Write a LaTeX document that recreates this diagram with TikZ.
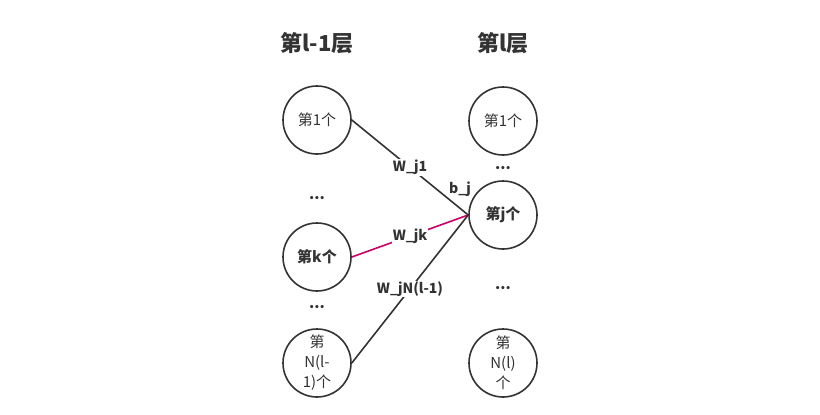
\documentclass[tikz,border=0pt]{standalone}
\usepackage{fontspec}
\setmainfont{Noto Sans CJK SC}
\definecolor{ink}{HTML}{333333}
\definecolor{mag}{HTML}{CC0066}
\begin{document}
\begin{tikzpicture}[x=1pt,y=-1pt,
  neuron/.style={circle,draw=ink,line width=1.6pt,minimum size=68pt,inner sep=0pt,text=ink,font=\fontsize{15}{20}\selectfont,align=center},
  boldneuron/.style={neuron,font=\fontsize{15}{20}\selectfont\bfseries},
  title/.style={font=\fontsize{22}{24}\selectfont\bfseries,text=ink},
  dots/.style={font=\fontsize{15}{15}\selectfont\bfseries,text=ink},
  wlab/.style={fill=white,inner sep=1pt,font=\fontsize{14}{15}\selectfont\bfseries,text=ink},
  conn/.style={line width=1.6pt,draw=ink}]
\useasboundingbox (0,0) rectangle (820,415);
\node[title] (t1) at (317,43) {第l-1层};
\node[title] (t2) at (503,43) {第l层};
\node[neuron] (a1) at (317,120) {第1个};
\node[boldneuron] (ak) at (317,257) {第k个};
\node[neuron] (an) at (317,363) {第\\N(l-\\1)个};
\node[neuron] (b1) at (503,121) {第1个};
\node[boldneuron] (bj) at (503,215) {第j个};
\node[neuron] (bn) at (503,363) {第\\N(l)\\个};
\node[dots] (d1) at (317,198) {...};
\node[dots] (d2) at (317,307) {...};
\node[dots] (d3) at (503,168) {...};
\node[dots] (d4) at (503,288) {...};
\draw[conn] (a1.east) -- node[wlab,pos=0.5] {W\_j1} (bj.west);
\draw[conn,draw=mag] (ak.east) -- node[wlab,pos=0.5] {W\_jk} (bj.west);
\draw[conn] (an.east) -- node[wlab,pos=0.5] {W\_jN(l-1)} (bj.west);
\node[wlab,fill=none] (bb) at (460,189) {b\_j};
\end{tikzpicture}
\end{document}
